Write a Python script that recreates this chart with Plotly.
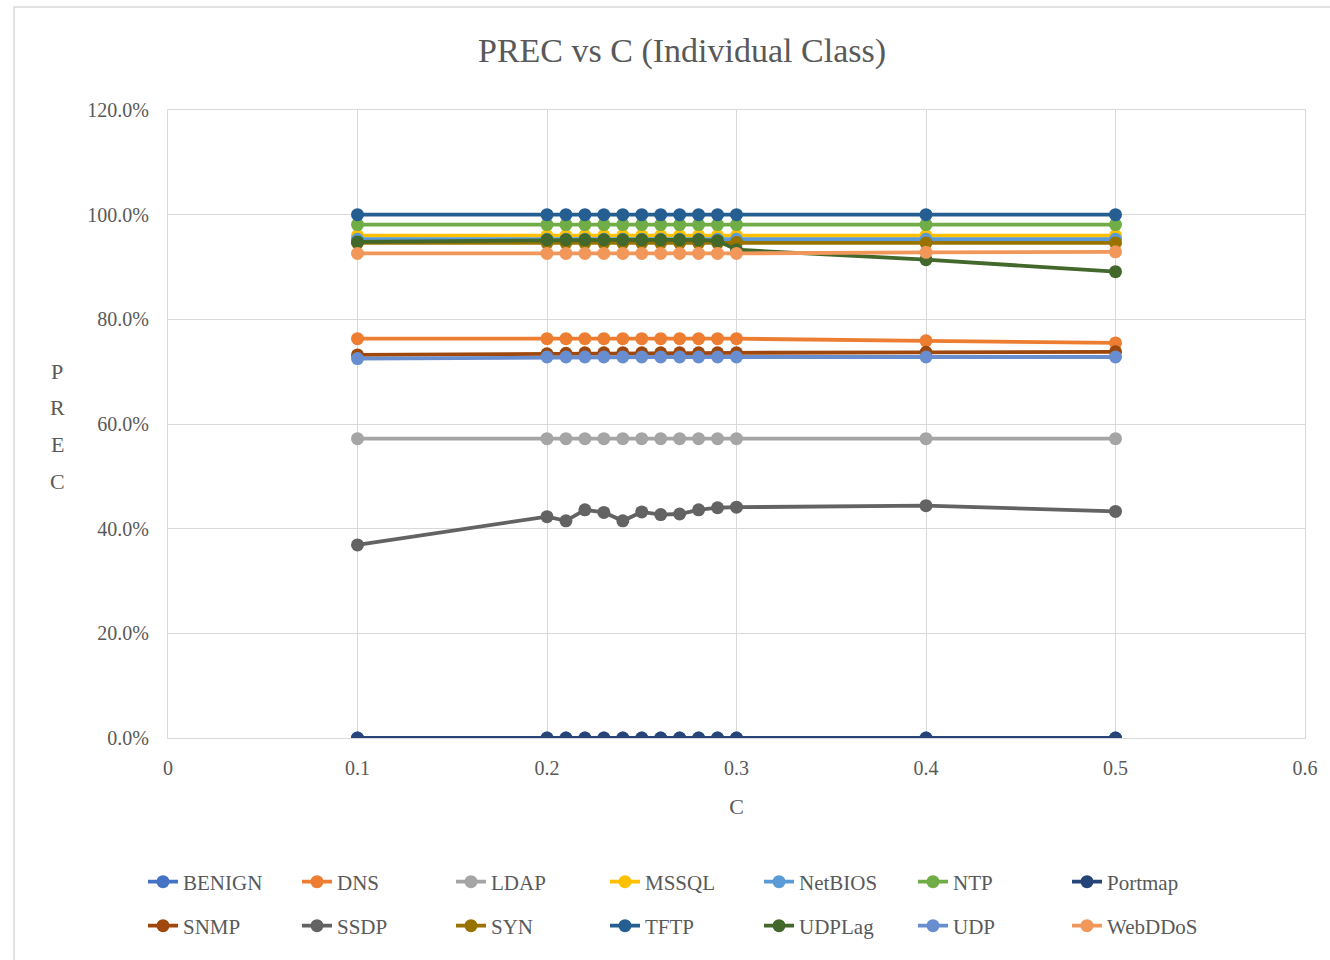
import plotly.graph_objects as go

# Regularisation parameter C
c_values = [0.1, 0.2, 0.21, 0.22, 0.23, 0.24, 0.25, 0.26, 0.27, 0.28, 0.29, 0.3, 0.4, 0.5]

# Per-class precision (%)
benign = [0.0, 0.0, 0.0, 0.0, 0.0, 0.0, 0.0, 0.0, 0.0, 0.0, 0.0, 0.0, 0.0, 0.0]
dns = [76.3, 76.3, 76.3, 76.3, 76.3, 76.3, 76.3, 76.3, 76.3, 76.3, 76.3, 76.3, 75.9, 75.5]
ldap = [57.2, 57.2, 57.2, 57.2, 57.2, 57.2, 57.2, 57.2, 57.2, 57.2, 57.2, 57.2, 57.2, 57.2]
mssql = [96.0, 96.0, 96.0, 96.0, 96.0, 96.0, 96.0, 96.0, 96.0, 96.0, 96.0, 96.0, 96.0, 96.0]
netbios = [95.3, 95.3, 95.3, 95.3, 95.3, 95.3, 95.3, 95.3, 95.3, 95.3, 95.3, 95.3, 95.3, 95.3]
ntp = [98.1, 98.1, 98.1, 98.1, 98.1, 98.1, 98.1, 98.1, 98.1, 98.1, 98.1, 98.1, 98.1, 98.1]
portmap = [0.0, 0.0, 0.0, 0.0, 0.0, 0.0, 0.0, 0.0, 0.0, 0.0, 0.0, 0.0, 0.0, 0.0]
snmp = [73.2, 73.4, 73.5, 73.6, 73.6, 73.6, 73.6, 73.6, 73.6, 73.6, 73.6, 73.6, 73.7, 73.8]
ssdp = [36.9, 42.3, 41.5, 43.6, 43.1, 41.5, 43.2, 42.7, 42.8, 43.6, 44.0, 44.1, 44.4, 43.3]
syn = [94.6, 94.6, 94.6, 94.6, 94.6, 94.6, 94.6, 94.6, 94.6, 94.6, 94.6, 94.7, 94.6, 94.6]
tftp = [100.0, 100.0, 100.0, 100.0, 100.0, 100.0, 100.0, 100.0, 100.0, 100.0, 100.0, 100.0, 100.0, 100.0]
udplag = [94.8, 95.2, 95.2, 95.2, 95.2, 95.2, 95.2, 95.2, 95.2, 95.2, 95.0, 93.3, 91.4, 89.1]
udp = [72.5, 72.8, 72.8, 72.8, 72.8, 72.8, 72.8, 72.8, 72.8, 72.8, 72.8, 72.8, 72.8, 72.8]
webddos = [92.6, 92.6, 92.6, 92.6, 92.6, 92.6, 92.6, 92.6, 92.6, 92.6, 92.6, 92.6, 92.8, 92.9]

class_names = ["BENIGN", "DNS", "LDAP", "MSSQL", "NetBIOS", "NTP", "Portmap",
               "SNMP", "SSDP", "SYN", "TFTP", "UDPLag", "UDP", "WebDDoS"]
series = [benign, dns, ldap, mssql, netbios, ntp, portmap,
          snmp, ssdp, syn, tftp, udplag, udp, webddos]
colors = ["#4472C4", "#ED7D31", "#A5A5A5", "#FFC000", "#5B9BD5", "#70AD47", "#264478",
          "#9E480E", "#636363", "#997300", "#255E91", "#43682B", "#698ED0", "#F1975A"]

FONT = "Liberation Serif, Times New Roman, serif"
TEXT = "#595959"
GRID = "#D9D9D9"

fig = go.Figure()
for i, (name, vals, col) in enumerate(zip(class_names, series, colors)):
    fig.add_trace(go.Scatter(
        x=c_values, y=vals, name=name, mode="lines+markers",
        line=dict(color=col, width=3.8),
        marker=dict(color=col, size=13),
        legend="legend" if i < 7 else "legend2",
    ))

legend_common = dict(
    orientation="h", xanchor="left", yanchor="middle",
    font=dict(family=FONT, size=21, color=TEXT),
    entrywidth=109, entrywidthmode="pixels",
    bgcolor="rgba(0,0,0,0)", itemwidth=30,
)

fig.update_layout(
    width=1330, height=960,
    margin=dict(l=168, r=25, t=110, b=222),
    paper_bgcolor="white", plot_bgcolor="white",
    font=dict(family=FONT, color=TEXT),
    title=dict(text="PREC vs C (Individual Class)", x=682 / 1330, xanchor="center",
               y=1 - 50 / 960, yanchor="middle",
               font=dict(family=FONT, size=34, color=TEXT)),
    xaxis=dict(range=[0, 0.6], dtick=0.1, tick0=0, showgrid=True, gridcolor=GRID,
               gridwidth=1, zeroline=False, showline=True, linecolor=GRID, mirror=True,
               ticks="", ticklabelstandoff=12,
               tickfont=dict(family=FONT, size=20, color=TEXT),
               title=dict(text="C", font=dict(family=FONT, size=22, color=TEXT), standoff=20)),
    yaxis=dict(range=[0, 120], dtick=20, tick0=0, showgrid=True, gridcolor=GRID,
               gridwidth=1, zeroline=False, showline=True, linecolor=GRID, mirror=True,
               ticks="", tickformat=".1f", ticksuffix="%", ticklabelstandoff=14,
               tickfont=dict(family=FONT, size=20, color=TEXT)),
    legend=dict(x=(143 - 168) / 1137, y=(738 - 882) / 628, **legend_common),
    legend2=dict(x=(143 - 168) / 1137, y=(738 - 926) / 628, **legend_common),
    showlegend=True,
)

# Vertical y-axis title, one letter per line
for k, letter in enumerate("PREC"):
    fig.add_annotation(text=letter, xref="paper", yref="paper",
                       x=(57 - 168) / 1137, y=(738 - (371 + 36.7 * k)) / 628,
                       xanchor="center", yanchor="middle", showarrow=False,
                       font=dict(family=FONT, size=22, color=TEXT))

# Light chart-area border
fig.add_shape(type="rect", xref="paper", yref="paper",
              x0=(14 - 168) / 1137, x1=(1345 - 168) / 1137,
              y0=(738 - 975) / 628, y1=(738 - 7) / 628,
              line=dict(color=GRID, width=1.5), fillcolor="rgba(0,0,0,0)", layer="below")

fig.write_html("out.html")
